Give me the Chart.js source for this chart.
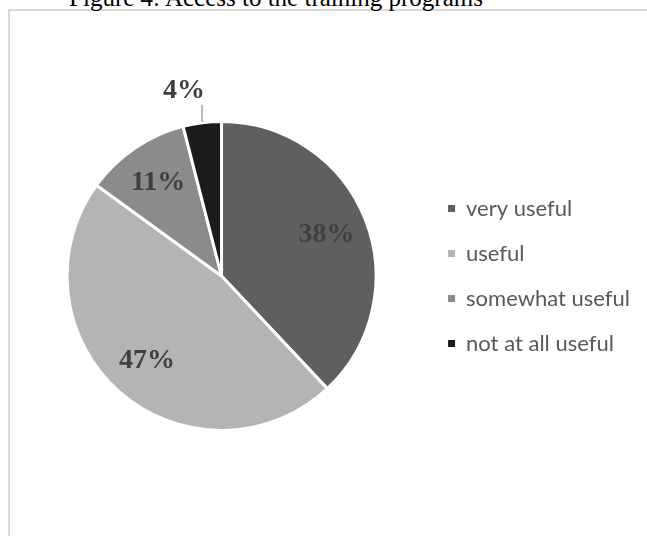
<!DOCTYPE html>
<html>
<head>
<meta charset="utf-8">
<script src="https://cdn.jsdelivr.net/npm/chart.js"></script>
<style>
  body { margin: 0; background: #fff; overflow: hidden; }
  #wrap { position: relative; width: 647px; height: 536px; }
  #frame { position: absolute; left: 8px; top: 9px; width: 800px; height: 800px;
           border: 2px solid #d9d9d9; box-sizing: border-box; }
  #title { position: absolute; left: 0; top: -15px; width: 552px; text-align: center;
           font: 25px "Liberation Serif", "Times New Roman", serif; line-height: 26px;
           white-space: nowrap; color: #000; }
  #chartBox { position: absolute; left: 0; top: 0; width: 647px; height: 536px; }
</style>
</head>
<body>
<div id="wrap">
  <div id="frame"></div>
  <div id="title">Figure 4: Access to the training programs</div>
  <div id="chartBox"><canvas id="myChart"></canvas></div>
</div>
<script>
// data
var categories = ["very useful", "useful", "somewhat useful", "not at all useful"];
var shares = [38, 47, 11, 4];
var sliceColors = ["#5f5f5f", "#b4b4b4", "#8b8b8b", "#1b1b1b"];

// percentage labels, small slices get a leader line outside the pie
var pctLabels = {
  id: 'pctLabels',
  afterDatasetsDraw: function(chart) {
    var ctx = chart.ctx;
    var meta = chart.getDatasetMeta(0);
    ctx.save();
    ctx.font = 'bold 28px "Liberation Serif", "Times New Roman", serif';
    ctx.fillStyle = '#404040';
    meta.data.forEach(function(arc, i) {
      var p = arc.getProps(['x', 'y', 'startAngle', 'endAngle', 'outerRadius'], true);
      var mid = (p.startAngle + p.endAngle) / 2;
      var txt = shares[i] + '%';
      if (shares[i] >= 5) {
        var k = 0.73 * p.outerRadius;
        ctx.textAlign = 'center';
        ctx.textBaseline = 'middle';
        ctx.fillText(txt, p.x + Math.cos(mid) * k, p.y + Math.sin(mid) * k);
      } else {
        var ex = p.x + Math.cos(mid) * (p.outerRadius + 1);
        var ey = p.y + Math.sin(mid) * (p.outerRadius + 1);
        ctx.strokeStyle = '#a6a6a6';
        ctx.lineWidth = 1.5;
        ctx.beginPath();
        ctx.moveTo(ex, ey);
        ctx.lineTo(ex, ey - 17);
        ctx.stroke();
        ctx.textAlign = 'right';
        ctx.textBaseline = 'alphabetic';
        ctx.fillText(txt, ex + 3, ey - 24);
      }
    });
    ctx.restore();
  }
};

var ctx1 = document.getElementById("myChart").getContext('2d');
var myChart = new Chart(ctx1, {
  type: 'pie',
  data: {
    labels: categories,
    datasets: [{
      data: shares,
      backgroundColor: sliceColors,
      borderColor: '#ffffff',
      borderWidth: 3,
      hoverOffset: 0
    }]
  },
  options: {
    responsive: true,
    maintainAspectRatio: false,
    animation: false,
    layout: {
      padding: { left: 18, right: 7, top: 120, bottom: 104 }
    },
    plugins: {
      legend: {
        position: 'right',
        labels: {
          boxWidth: 7,
          boxHeight: 7,
          padding: 23,
          color: '#595959',
          font: { family: 'Lato', size: 22 },
          generateLabels: function(chart) {
            return categories.map(function(c, i) {
              return {
                text: c,
                fillStyle: sliceColors[i],
                strokeStyle: sliceColors[i],
                lineWidth: 0,
                fontColor: '#595959',
                hidden: false,
                index: i
              };
            });
          }
        }
      },
      tooltip: { enabled: false }
    }
  },
  plugins: [pctLabels]
});
</script>
</body>
</html>
